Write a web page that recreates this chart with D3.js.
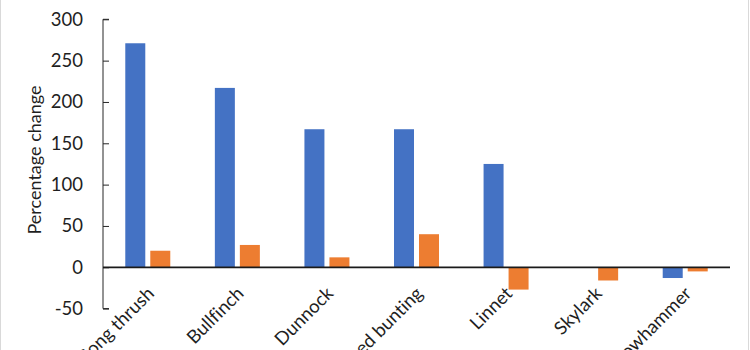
<!DOCTYPE html>
<html>
<head>
<meta charset="utf-8">
<script src="https://cdn.jsdelivr.net/npm/d3@7"></script>
<style>
  html, body { margin: 0; padding: 0; background: #fff; }
  svg { display: block; }
  text { font-variant-ligatures: none; font-feature-settings: "liga" 0; }
</style>
</head>
<body>
<svg id="chart" width="750" height="350"></svg>
<script>
const categories = ["Song thrush", "Bullfinch", "Dunnock", "Reed bunting", "Linnet", "Skylark", "Yellowhammer"];
const seriesNames = ["Series 1", "Series 2"];
const series1 = [271, 217, 167, 167, 125, 0, -13];
const series2 = [20, 27, 12, 40, -27, -16, -5];
const yTicks = [-50, 0, 50, 100, 150, 200, 250, 300];
const yTitle = "Percentage change";
const colors = ["#4472C4", "#ED7D31"];

const W = 750, H = 350;
const plot = { left: 103, right: 730, top: 19.3, bottom: 308.6 };
const font = "Lato, 'Open Sans', sans-serif";
const textColor = "#1f1f1f";

const svg = d3.select("#chart");

// outer frame edges
svg.append("line").attr("x1", 0.5).attr("x2", 0.5).attr("y1", 0).attr("y2", H)
  .attr("stroke", "#d9d9d9").attr("stroke-width", 1);
svg.append("line").attr("x1", W - 1.5).attr("x2", W - 1.5).attr("y1", 0).attr("y2", H)
  .attr("stroke", "#d9d9d9").attr("stroke-width", 1);

const y = d3.scaleLinear().domain([-50, 300]).range([plot.bottom, plot.top]);
const x0 = d3.scaleBand().domain(categories).range([plot.left, plot.right]).paddingInner(0).paddingOuter(0);
const bw = x0.bandwidth();
const half = bw * 0.2512;
const x1 = d3.scaleBand().domain(seriesNames).range([-half, half]).paddingInner(0.2).paddingOuter(0);

const data = categories.map((c, i) => ({ cat: c, values: [series1[i], series2[i]] }));

// bars
const groups = svg.append("g").selectAll("g").data(data).join("g")
  .attr("transform", d => `translate(${x0(d.cat) + bw / 2},0)`);
groups.selectAll("rect")
  .data(d => d.values.map((v, j) => ({ v, s: seriesNames[j], j })))
  .join("rect")
  .attr("x", d => x1(d.s))
  .attr("width", x1.bandwidth())
  .attr("y", d => y(Math.max(0, d.v)))
  .attr("height", d => Math.abs(y(d.v) - y(0)))
  .attr("fill", d => colors[d.j]);

// y axis (ticks inside)
const yAxis = d3.axisRight(y).tickValues(yTicks).tickSize(6).tickFormat("");
const yg = svg.append("g").attr("transform", `translate(${plot.left},0)`).call(yAxis);
yg.select(".domain").attr("d", `M6,${plot.top}H0V${plot.bottom}H6`).attr("stroke", "#262626").attr("stroke-width", 1);
yg.selectAll(".tick line").attr("stroke", "#262626");

// y tick labels
svg.append("g").selectAll("text").data(yTicks).join("text")
  .attr("x", plot.left - 20)
  .attr("y", d => y(d))
  .attr("dy", "0.35em")
  .attr("text-anchor", "end")
  .attr("font-family", font)
  .attr("font-size", 18.5)
  .attr("fill", textColor)
  .text(d => d);

// zero line
svg.append("line")
  .attr("x1", plot.left).attr("x2", plot.right)
  .attr("y1", y(0)).attr("y2", y(0))
  .attr("stroke", "#1a1a1a").attr("stroke-width", 1.75);

// x labels
svg.append("g").selectAll("text").data(categories).join("text")
  .attr("transform", d => `translate(${x0(d) + bw / 2 - 2},${y(0) + 18}) rotate(-45)`)
  .attr("dy", "0.72em")
  .attr("text-anchor", "end")
  .attr("font-family", font)
  .attr("font-size", 18.5)
  .attr("fill", textColor)
  .text(d => d);

// y title
svg.append("text")
  .attr("transform", `translate(35,160) rotate(-90)`)
  .attr("dy", "0.35em")
  .attr("text-anchor", "middle")
  .attr("font-family", font)
  .attr("font-size", 18)
  .attr("fill", textColor)
  .text(yTitle);
</script>
</body>
</html>
